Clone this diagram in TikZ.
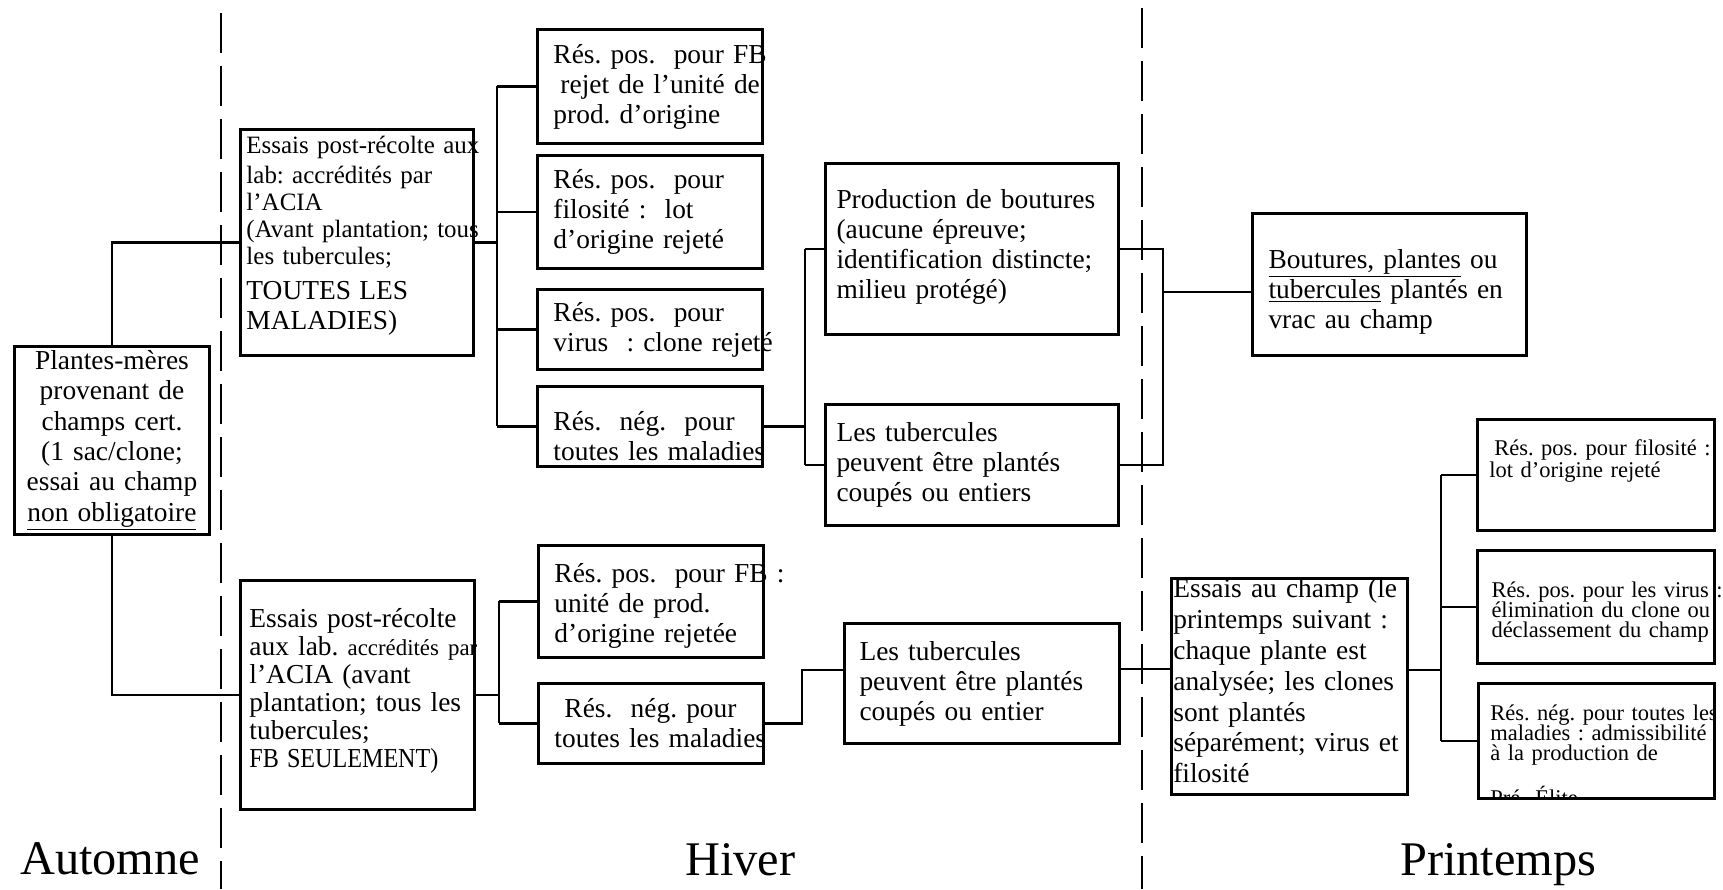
\documentclass[tikz,border=0pt]{standalone}
\usepackage{fontspec}
\setmainfont{Liberation Serif}
\usepackage{graphicx}
\newcommand\myfbody{\fontsize{15.6pt}{17.1pt}\selectfont\lineskiplimit=-40pt\relax}
\newcommand\myfA{\fontsize{15.6pt}{17.25pt}\selectfont\lineskiplimit=-40pt\relax}
\newcommand\myfBs{\fontsize{14.2pt}{15.3pt}\selectfont\lineskiplimit=-40pt\relax}
\newcommand\myfBb{\fontsize{15.6pt}{17pt}\selectfont}
\newcommand\myfE{\fontsize{15.6pt}{15.9pt}\selectfont\lineskiplimit=-40pt\relax}
\newcommand\myfH{\fontsize{15.6pt}{17.6pt}\selectfont\lineskiplimit=-40pt\relax}
\newcommand\myfI{\fontsize{12.8pt}{11.34pt}\selectfont\lineskiplimit=-40pt\relax}
\newcommand\myfSeason{\fontsize{27.5pt}{30pt}\selectfont}
\begin{document}
\frenchspacing
\begin{tikzpicture}[x=0.02cm,y=-0.02cm,
  box/.style={draw, line width=1.7pt, rectangle, anchor=north west, inner ysep=0pt, align=left, font=\myfbody},
  conn/.style={line width=1.4pt},
  divider/.style={line width=1.2pt, dash pattern=on 0.8cm off 0.26cm},
  season/.style={anchor=base west, inner sep=0pt, font=\myfSeason},
  cbox/.style={box, minimum width=4.5cm, inner xsep=0.32cm, text width=3.86cm},
  ibox/.style={box, inner xsep=0.28cm, text width=4.18cm, font=\myfI},
  intext/.style={anchor=north west, inner sep=0pt, align=left}
]
\fill[white] (0,0) rectangle (1723,889);
\path[use as bounding box] (0,0) rectangle (1723,889);

% season dividers
\draw[divider] (221,13) -- (221,889);
\draw[divider] (1142,8) -- (1142,889);

% Automne
\node[box, minimum width=3.9cm, minimum height=3.76cm, inner xsep=0.12cm, text width=3.66cm, align=center, font=\myfA] (A) at (13,345)
 {Plantes-mères\\ provenant de\\ champs cert.\\ (1 sac/clone;\\ essai au champ\\ \underline{non obligatoire}};

% Hiver, upper branch
\node[box, minimum width=4.66cm, minimum height=4.52cm, inner xsep=0.12cm, text width=4.42cm, font=\myfBs] (B) at (239,128)
 {\mbox{Essais post-récolte aux}\\[1.7pt]
  \mbox{lab: accrédités par}\\
  l’ACIA\\
  \mbox{(Avant plantation; tous}\\
  les tubercules;\\[5.1pt]
  {\myfBb TOUTES LES}\\[1.7pt]
  {\myfBb MALADIES)}\rule[-0.38cm]{0pt}{0pt}};

\node[cbox, minimum height=2.28cm] (C1) at (536,28)
 {\mbox{Rés. pos.\ \ pour FB}\\ \mbox{\hspace{0.14cm}rejet de l’unité de}\\ prod. d’origine};
\node[cbox, minimum height=2.26cm] (C2) at (536,154)
 {Rés. pos.\ \ pour\\ filosité :\ \ lot\\ d’origine rejeté};
\node[cbox, minimum height=1.6cm] (C3) at (536,288)
 {Rés. pos.\ \ pour\\ \mbox{virus\ \ : clone rejeté}};
\node[cbox, minimum height=1.6cm] (C4) at (536,385)
 {\rule{0pt}{0.78cm}Rés.\ \ nég.\ \ pour\\ \mbox{toutes les maladies}};

\node[box, minimum width=5.87cm, minimum height=3.42cm, inner xsep=0.22cm, text width=5.43cm] (D1) at (824,162)
 {Production de boutures\\ (aucune épreuve;\\ \mbox{identification distincte;}\\ milieu protégé)\rule[-0.2cm]{0pt}{0pt}};
\node[box, minimum width=5.87cm, minimum height=2.42cm, inner xsep=0.22cm, text width=5.43cm] (D2) at (824,403)
 {Les tubercules\\ peuvent être plantés\\ coupés ou entiers};

% Printemps, upper
\node[box, minimum width=5.48cm, minimum height=2.84cm, inner xsep=0.32cm, text width=4.84cm] (Bout) at (1251,212)
 {\rule{0pt}{0.68cm}\underline{Boutures, plantes} ou\\ \mbox{\underline{tubercules} plantés en}\\ vrac au champ};

% Hiver, lower branch
\node[box, minimum width=4.68cm, minimum height=4.58cm, inner xsep=0.18cm, text width=4.32cm, font=\myfE] (E) at (239,579)
 {Essais post-récolte\\
  \mbox{aux lab. {\fontsize{13pt}{14pt}\selectfont accrédités par}}\\
  l’ACIA (avant\\
  \mbox{plantation; tous les}\\
  tubercules;\\
  \mbox{\scalebox{0.88}[1]{FB SEULEMENT)}}\rule[-0.28cm]{0pt}{0pt}};

\node[cbox, minimum height=2.24cm] (F1) at (537,544)
 {\rule{0pt}{0.56cm}\mbox{Rés. pos.\ \ pour FB :}\\ unité de prod.\\ d’origine rejetée};
\node[cbox, minimum height=1.6cm] (F2) at (537,682)
 {\mbox{\hspace{0.2cm}Rés.\ \ nég. pour}\\ \mbox{toutes les maladies}};

\node[box, minimum width=5.5cm, minimum height=2.4cm, inner xsep=0.3cm, text width=4.9cm] (G) at (843,622)
 {Les tubercules\\ peuvent être plantés\\ coupés ou entier};

% Printemps, lower
\node[box, minimum width=4.72cm, minimum height=4.32cm] (H) at (1170,577) {};
\begin{scope}
 \clip (H.north west) rectangle (H.south east);
 \node[intext, text width=4.6cm, font=\myfH] (Ht) at ([xshift=0.06cm,yshift=-0.02cm]H.north west)
  {Essais au champ (le\\ printemps suivant :\\ chaque plante est\\ \mbox{analysée; les clones}\\ sont plantés\\ \mbox{séparément; virus et}\\ filosité};
\end{scope}

\node[box, minimum width=4.74cm, minimum height=2.22cm] (I1) at (1476,418) {};
\node[intext, text width=4.2cm, font=\myfI] (I1t) at ([xshift=0.26cm,yshift=-0.42cm]I1.north west)
 {\mbox{\hspace{0.1cm}Rés. pos. pour filosité :}\\[1.1pt] lot d’origine rejeté};

\node[ibox, minimum width=4.74cm, minimum height=2.26cm] (I2) at (1476,549)
 {\rule{0pt}{0.52cm}\mbox{Rés. pos. pour les virus :}\\ \mbox{élimination du clone ou}\\ \mbox{déclassement du champ}};

\node[box, minimum width=4.72cm, minimum height=2.3cm] (I3) at (1477,682) {};
\begin{scope}
 \clip (I3.north west) rectangle (I3.south east);
 \node[intext, text width=4.2cm, font=\myfI] (I3t) at ([xshift=0.26cm,yshift=-0.46cm]I3.north west)
  {\mbox{Rés. nég. pour toutes les}\\ \mbox{maladies : admissibilité}\\ à la production de\\[0.5cm] Pré- Élite};
\end{scope}

% connectors
\draw[conn] (A.north) |- (B.west);
\draw[conn] (A.south) |- (E.west);

\coordinate (busC) at (497,244);
\draw[conn] (B.east) -- (B.east -| busC);
\draw[conn] (busC |- C1.west) -- (busC |- C4.west);
\foreach \n in {C1,C2,C3,C4} \draw[conn] (busC |- \n.west) -- (\n.west);

\coordinate (busD) at (805,425);
\draw[conn] (C4.east) -- (C4.east -| busD);
\draw[conn] (busD |- D1.west) -- (busD |- D2.west);
\draw[conn] (busD |- D1.west) -- (D1.west);
\draw[conn] (busD |- D2.west) -- (D2.west);

\coordinate (busE) at (1163,292);
\draw[conn] (D1.east) -- (D1.east -| busE) -- (D2.east -| busE) -- (D2.east);
\draw[conn] (busE) -- (busE -| Bout.west);

\coordinate (busF) at (499,690);
\draw[conn] (E.east) -- (E.east -| busF);
\draw[conn] (busF |- F1.west) -- (busF |- F2.west);
\draw[conn] (busF |- F1.west) -- (F1.west);
\draw[conn] (busF |- F2.west) -- (F2.west);

\coordinate (kG) at (802,670);
\draw[conn] (F2.east) -| (kG) -- (kG -| G.west);

\coordinate (kH) at (1130,669);
\draw[conn] (kH -| G.east) -- (kH -| H.west);

\coordinate (busI) at (1441,670);
\draw[conn] (busI -| H.east) -- (busI);
\draw[conn] (busI |- I1.west) -- (busI |- I3.west);
\foreach \n in {I1,I2,I3} \draw[conn] (busI |- \n.west) -- (\n.west);

% season labels
\node[season] (aut) at (20,874) {Automne};
\node[season] (hiv) at (685,875) {Hiver};
\node[season] (pri) at (1400,875) {Printemps};
\end{tikzpicture}
\end{document}
